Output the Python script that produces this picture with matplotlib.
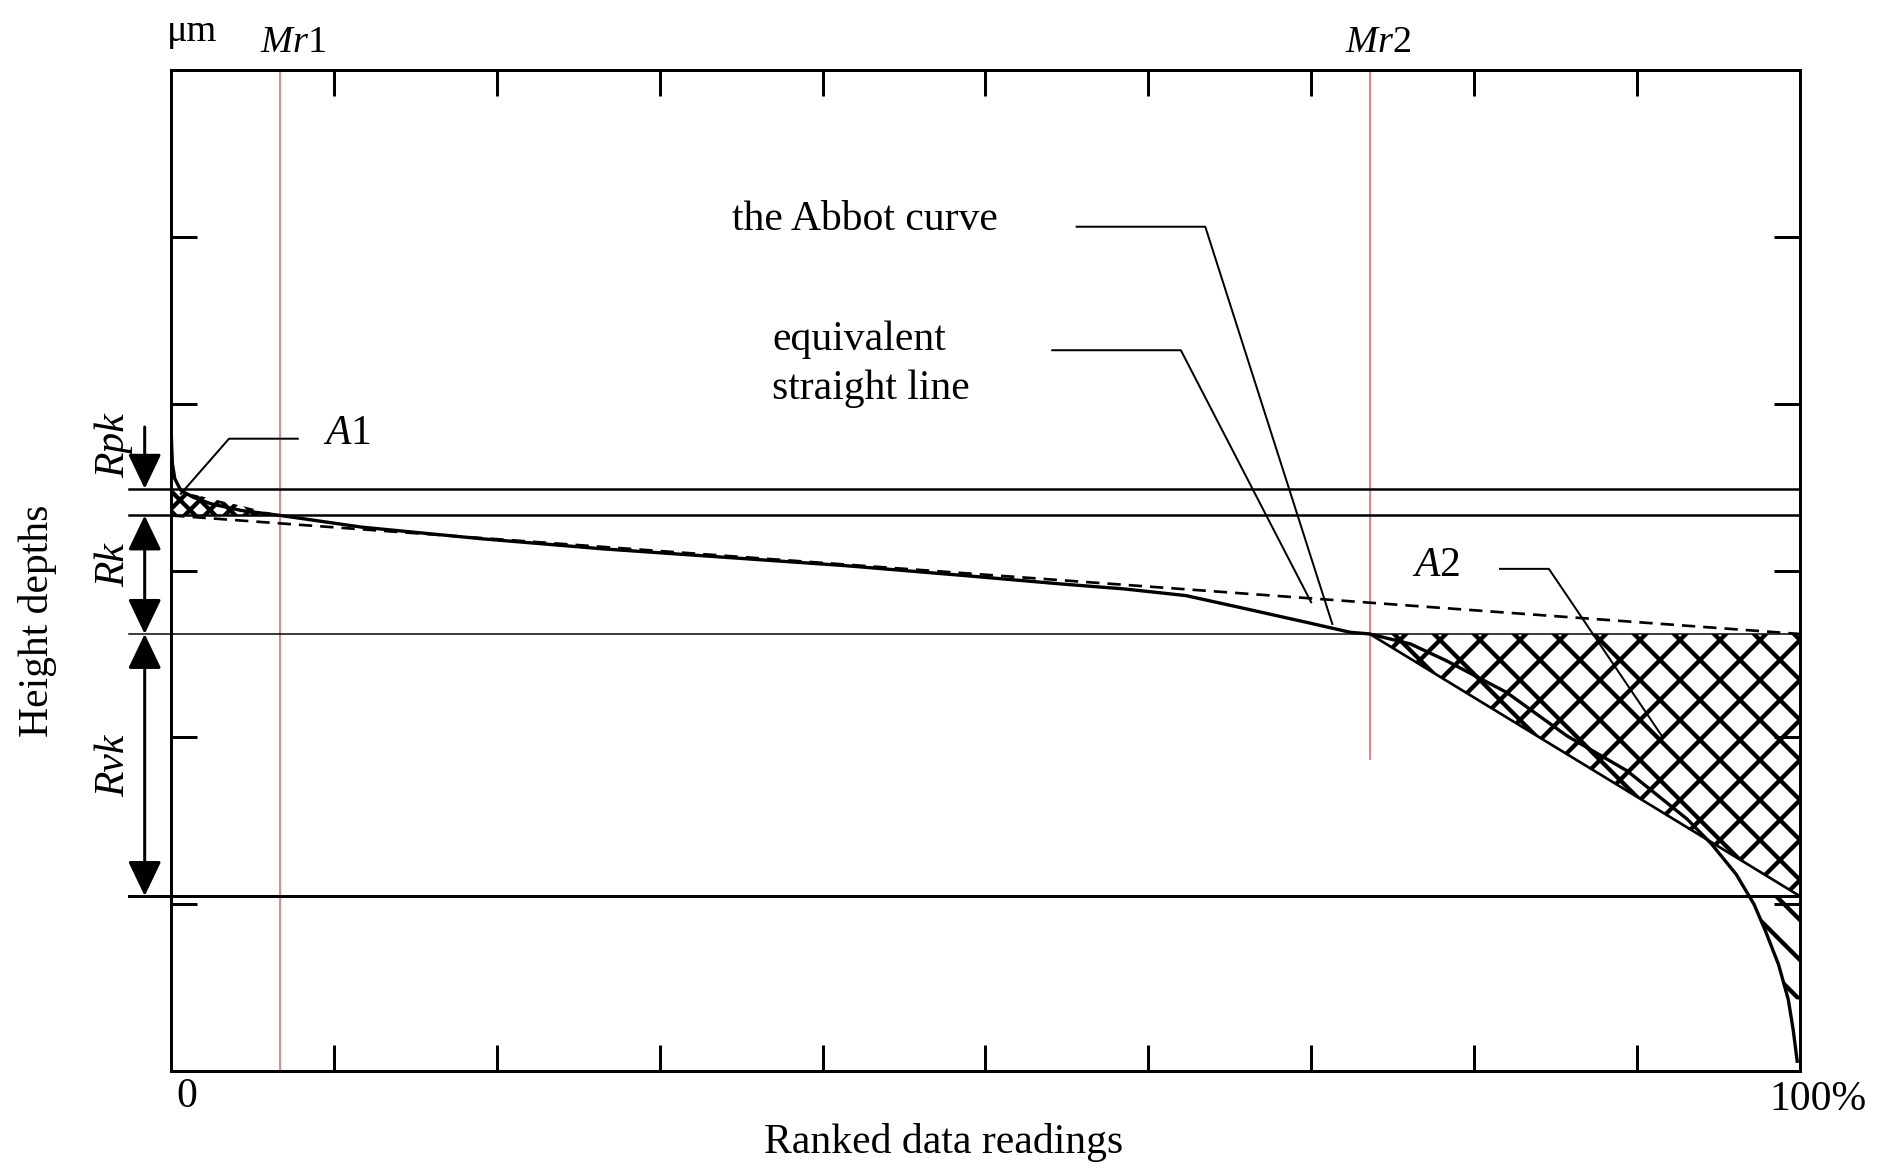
import matplotlib
matplotlib.use('Agg')
import matplotlib.pyplot as plt
import numpy as np

# шрифты как в оригинале (Times-подобный)
plt.rcParams['font.family'] = ['Liberation Serif', 'DejaVu Serif']
plt.rcParams['mathtext.fontset'] = 'custom'
plt.rcParams['mathtext.rm'] = 'Liberation Serif'
plt.rcParams['mathtext.it'] = 'Liberation Serif:italic'
plt.rcParams['hatch.linewidth'] = 1.3

# кривая Аббота (x в %, y в делениях оси)
abbott_x = [0, 0.07, 0.22, 0.59, 1.33, 2.44, 4.29, 6.7, 11.7, 19.1, 26.5, 33.9, 41.3, 48.7,
            54.6, 58.5, 62.3, 65.8, 69.7, 72.4, 73.6, 76.1, 78.3, 82.0, 85.7, 89.4, 93.1, 94.6,
            96.1, 97.2, 97.9, 98.7, 99.3, 99.6, 99.85]
abbott_y = [3.82, 3.64, 3.55, 3.48, 3.44, 3.40, 3.36, 3.33, 3.26, 3.19, 3.13, 3.08, 3.03, 2.97,
            2.92, 2.89, 2.85, 2.775, 2.69, 2.63, 2.62, 2.56, 2.46, 2.27, 2.01, 1.80, 1.51, 1.36,
            1.18, 1.00, 0.84, 0.64, 0.43, 0.25, 0.06]

# уровни Rpk / Rk / Rvk
peak_level = 3.49
core_top = 3.33
core_bottom = 2.62
valley_level = 1.05
mr1 = 6.7
mr2 = 73.6

x_ticks = list(range(0, 101, 10))
y_ticks = list(range(0, 7))

fig = plt.figure(figsize=(7.875, 4.9), dpi=240)
ax = fig.add_axes([0.0906, 0.0891, 0.8616, 0.8515])
ax.set_xlim(0, 100)
ax.set_ylim(0, 6)
ax.set_xticks(x_ticks)
ax.set_yticks(y_ticks)
ax.tick_params(direction='in', length=7.8, width=0.9, top=True, right=True,
               labelbottom=False, labelleft=False)
for s in ax.spines.values():
    s.set_linewidth(0.9)

# красные линии Mr1, Mr2
ax.plot([mr1, mr1], [0, 6], color='#f06a6a', lw=0.5)
ax.plot([mr2, mr2], [1.87, 6], color='#f06a6a', lw=0.5)

# горизонтальные уровни
ax.plot([-2.6, 100], [peak_level, peak_level], color='black', lw=0.75, clip_on=False)
ax.plot([-2.6, 100], [core_top, core_top], color='black', lw=0.75, clip_on=False)
ax.plot([-2.6, 100], [core_bottom, core_bottom], color='black', lw=0.45, clip_on=False)
ax.plot([-2.6, 100], [valley_level, valley_level], color='black', lw=0.9, clip_on=False)

# эквивалентная прямая
ax.plot([0, 100], [core_top, core_bottom], color='black', lw=0.8, dashes=(5, 3))

# кривая Аббота
ax.plot(abbott_x, abbott_y, color='black', lw=1.0)

# площади A1 и A2
ax.fill([0, 0, mr1], [peak_level, core_top, core_top], facecolor='none',
        edgecolor='black', hatch='xxxx', lw=0)
ax.fill([mr2, 100, 100], [core_bottom, core_bottom, valley_level], facecolor='none',
        edgecolor='black', hatch='xx', lw=0)
ax.plot([mr2, 100], [core_bottom, valley_level], color='black', lw=0.8)
# под линией Rvk: штриховка между кривой и 100%
low_y = [valley_level] + [y for y in abbott_y if 0.28 <= y < valley_level]
low_x = list(np.interp(low_y, abbott_y[::-1], abbott_x[::-1]))
ax.fill_betweenx(low_y, low_x, [100] * len(low_x), facecolor='none',
                 edgecolor='black', hatch='\\\\', lw=0)

# выноски
ax.plot([55.6, 63.5, 71.3], [5.06, 5.06, 2.68], color='black', lw=0.6)
ax.plot([54.1, 62.0, 70.0], [4.32, 4.32, 2.81], color='black', lw=0.6)
ax.plot([7.77, 3.55, 0.59], [3.79, 3.79, 3.46], color='black', lw=0.6)
ax.plot([81.6, 84.6, 91.6], [3.01, 3.01, 2.0], color='black', lw=0.6)

fs = 12.5
ax.text(42.6, 5.10, 'the Abbot curve', fontsize=fs, ha='center', va='center')
ax.text(36.9, 4.38, 'equivalent', fontsize=fs, ha='left', va='center')
ax.text(36.9, 4.09, 'straight line', fontsize=fs, ha='left', va='center')
ax.text(9.3, 3.82, r'$\mathit{A}$1', fontsize=fs, ha='left', va='center')
ax.text(76.2, 3.03, r'$\mathit{A}$2', fontsize=fs, ha='left', va='center')
ax.text(7.5, 6.16, r'$\mathit{Mr}$1', fontsize=fs - 1, ha='center', va='center', clip_on=False)
ax.text(74.1, 6.16, r'$\mathit{Mr}$2', fontsize=fs - 1, ha='center', va='center', clip_on=False)
ax.text(1.3, 6.23, 'μm', fontsize=fs - 1, ha='center', va='center')
ax.text(0.96, -0.15, '0', fontsize=fs, ha='center', va='center')
ax.text(101.1, -0.17, '100%', fontsize=fs, ha='center', va='center')
ax.text(47.4, -0.43, 'Ranked data readings', fontsize=fs, ha='center', va='center')
ax.text(-8.2, 2.70, 'Height depths', fontsize=fs, ha='center', va='center', rotation=90)
ax.text(-3.5, 3.75, 'Rpk', fontsize=fs, style='italic', ha='center', va='center', rotation=90)
ax.text(-3.5, 3.03, 'Rk', fontsize=fs, style='italic', ha='center', va='center', rotation=90)
ax.text(-3.5, 1.83, 'Rvk', fontsize=fs, style='italic', ha='center', va='center', rotation=90)

# размерные стрелки слева
arrow_x = -1.63
ax.annotate('', xy=(arrow_x, peak_level), xytext=(arrow_x, 3.86), annotation_clip=False,
            arrowprops=dict(arrowstyle='-|>,head_length=0.9,head_width=0.43', color='black',
                            lw=0.9, shrinkA=0, shrinkB=0))
ax.annotate('', xy=(arrow_x, core_bottom), xytext=(arrow_x, core_top), annotation_clip=False,
            arrowprops=dict(arrowstyle='<|-|>,head_length=0.9,head_width=0.43', color='black',
                            lw=0.9, shrinkA=0, shrinkB=0))
ax.annotate('', xy=(arrow_x, valley_level), xytext=(arrow_x, core_bottom), annotation_clip=False,
            arrowprops=dict(arrowstyle='<|-|>,head_length=0.9,head_width=0.43', color='black',
                            lw=0.9, shrinkA=0, shrinkB=0))

fig.savefig('out.png', dpi=240)
